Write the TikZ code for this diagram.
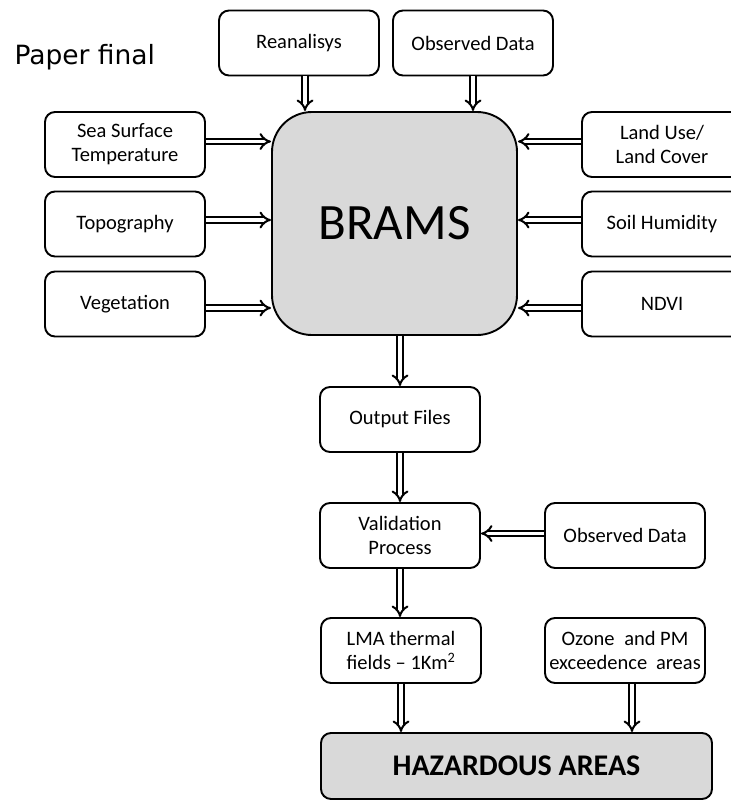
\documentclass[tikz,border=0pt]{standalone}
\usepackage{fontspec}
\setmainfont{Carlito}
\newfontfamily\titlefont{DejaVu Sans}
\usetikzlibrary{arrows.meta}
\definecolor{boxgray}{HTML}{D9D9D9}
\begin{document}
\begin{tikzpicture}[x=1pt, y=-1pt,
  box/.style={draw, line width=1.9pt, rounded corners=10pt, fill=white,
    minimum width=160pt, minimum height=65pt, align=center,
    font=\fontsize{20.5}{24}\selectfont, inner sep=2pt},
  bigbox/.style={box, fill=boxgray},
  dar/.style={double, double distance=3.6pt, line width=2pt, -{Implies}}]
\useasboundingbox (0,0) rectangle (731,801);

% title
\node[anchor=west, font=\titlefont\fontsize{26.5}{30}\selectfont] (title) at (11,57) {Paper final};

% central model
\node[bigbox, rounded corners=40pt, minimum width=245pt, minimum height=223pt,
  font=\fontsize{51}{60}\selectfont] (brams) at (394.5,223.5) {BRAMS};

% top inputs
\node[box] (rean) at (299,43) {Reanalisys};
\node[box] (obs1) at (473,43) {Observed Data};

% left inputs
\node[box] (sst) at (125,144.5) {Sea Surface\\Temperature};
\node[box] (topo) at (125,224) {Topography};
\node[box] (veg) at (125,304) {Vegetation};

% right inputs
\node[box] (land) at (662,144.5) {Land Use/\\Land Cover};
\node[box] (soil) at (662,224) {Soil Humidity};
\node[box] (ndvi) at (662,304) {NDVI};

% processing chain
\node[box] (out) at (400,419.5) {Output Files};
\node[box] (val) at (400,535.5) {Validation\\Process};
\node[box] (obs2) at (625,535.5) {Observed Data};
\node[box] (lma) at (401,650.5) {LMA thermal\\fields -- 1Km\textsuperscript{2}};
\node[box] (ozone) at (625,650.5) {Ozone\hspace{0.25em} and PM\\exceedence\hspace{0.2em} areas};
\node[bigbox, minimum width=391pt, minimum height=66pt,
  font=\bfseries\fontsize{30}{36}\selectfont] (haz) at (516.5,766) {HAZARDOUS AREAS};

% connectors
\draw[dar] ([xshift=6pt]rean.south) -- ([xshift=6pt]rean.south |- brams.north);
\draw[dar] (obs1.south) -- (obs1.south |- brams.north);
\draw[dar] ([yshift=3pt]sst.east) -- ([yshift=3pt]sst.east -| brams.west);
\draw[dar] ([yshift=4pt]topo.east) -- ([yshift=4pt]topo.east -| brams.west);
\draw[dar] ([yshift=-4pt]veg.east) -- ([yshift=-4pt]veg.east -| brams.west);
\draw[dar] ([yshift=3pt]land.west) -- ([yshift=3pt]land.west -| brams.east);
\draw[dar] ([yshift=4pt]soil.west) -- ([yshift=4pt]soil.west -| brams.east);
\draw[dar] ([yshift=-4pt]ndvi.west) -- ([yshift=-4pt]ndvi.west -| brams.east);
\draw[dar] (out.north |- brams.south) -- (out.north);
\draw[dar] (out.south) -- (val.north);
\draw[dar] ([yshift=2pt]obs2.west) -- ([yshift=2pt]val.east);
\draw[dar] (val.south) -- (val.south |- lma.north);
\draw[dar] (lma.south) -- (lma.south |- haz.north);
\draw[dar] ([xshift=7pt]ozone.south) -- ([xshift=7pt]ozone.south |- haz.north);
\end{tikzpicture}
\end{document}
